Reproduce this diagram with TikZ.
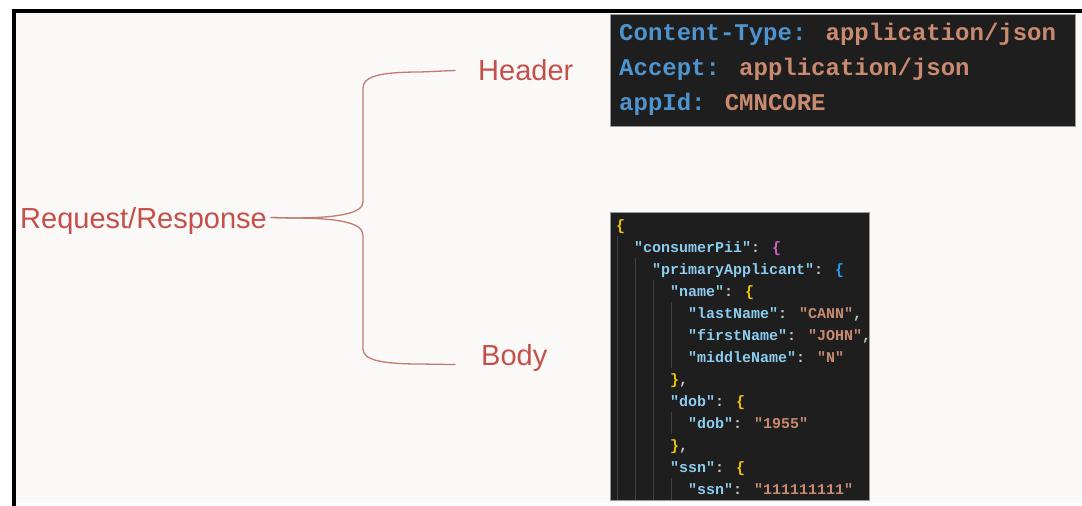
\documentclass[tikz,border=0pt]{standalone}
\usepackage{fontspec}
\setmainfont{Liberation Sans}
\newfontfamily\codefont{Liberation Mono}
\definecolor{pagebg}{HTML}{FAF9F8}
\definecolor{lblred}{HTML}{C4504A}
\definecolor{bracered}{HTML}{C27A74}
\definecolor{codebg}{HTML}{1E1E1E}
\definecolor{codeedge}{HTML}{9A9A9A}
\definecolor{hkey}{HTML}{4F94CF}
\definecolor{jkey}{HTML}{8CCCEE}
\definecolor{jstr}{HTML}{C98A70}
\definecolor{jpun}{HTML}{C8C8C8}
\definecolor{jyel}{HTML}{F2C300}
\definecolor{jmag}{HTML}{D064C8}
\definecolor{jblu}{HTML}{2A9BEF}
\definecolor{guidec}{HTML}{404040}
\newcommand\JK[1]{\textcolor{jkey}{#1}}
\newcommand\JS[1]{\textcolor{jstr}{#1}}
\newcommand\JP[1]{\textcolor{jpun}{#1}}
\newcommand\JY[1]{\textcolor{jyel}{#1}}
\begin{document}
\begin{tikzpicture}[x=1pt,y=-1pt,
  lbl/.style={inner sep=0pt, text=lblred, font=\fontsize{29}{34}\selectfont, text depth=0pt, anchor=base west},
  brace/.style={draw=bracered, line width=1.3pt, line cap=round},
  hcode/.style={inner sep=0pt, anchor=base west, font=\codefont\bfseries\fontsize{24}{28}\selectfont},
  jcode/.style={inner sep=0pt, anchor=base west, font=\codefont\bfseries\fontsize{15}{18}\selectfont},
  codebox/.style={fill=codebg, draw=codeedge, line width=0.6pt},
  guide/.style={draw=guidec, line width=0.8pt}]
\useasboundingbox (0,0) rectangle (1082,506);
\fill[white] (0,0) rectangle (1082,506);
\fill[pagebg] (16,13) rectangle (1082,503);
\fill[black] (12,9) rectangle (1082,13);
\fill[black] (12,9) rectangle (16,506);

% labels
\node[lbl] (rr) at (20,228) {Request/Response};
\node[lbl] (hd) at (478,80) {Header};
\node[lbl] (bd) at (481,365) {Body};

% brace
\draw[brace, shorten >=23pt] (rr.east) ++(4,0) -- (292,218) .. controls (335,218) and (363,214) .. (363,202) -- (363,88) .. controls (363,77) and (378,72) .. (420,72) -- (hd.west);
\draw[brace, shorten >=26pt] (rr.east) ++(4,0) -- (292,218) .. controls (335,218) and (363,222) .. (363,235) -- (363,349) .. controls (363,359) and (378,364) .. (420,364) -- (bd.base west);

% header code box
\node[codebox, minimum width=465pt, minimum height=112pt, anchor=north west, inner sep=0pt] (hbox) at (610,14) {};
\node[hcode] (h1) at (619,40) {\textcolor{hkey}{Content-Type:} \JS{application/json}};
\node[hcode] (h2) at (619,75) {\textcolor{hkey}{Accept:} \JS{application/json}};
\node[hcode] (h3) at (619,110) {\textcolor{hkey}{appId:} \JS{CMNCORE}};

% body code box
\node[codebox, minimum width=259pt, minimum height=288pt, anchor=north west, inner sep=0pt] (bbox) at (610,212) {};
% indent guides
\draw[guide] (617,236) -- (617,499.5);
\draw[guide] (635,258) -- (635,499.5);
\draw[guide] (653,280) -- (653,499.5);
\draw[guide] (671,302) -- (671,368);
\draw[guide] (671,412) -- (671,434);
\draw[guide] (671,478) -- (671,499.5);
% json lines
\node[jcode] (j0) at (616,230) {\JY{\{}};
\node[jcode] (j1) at (634,252) {\JK{"consumerPii"}\JP{:} \textcolor{jmag}{\{}};
\node[jcode] (j2) at (652,274) {\JK{"primaryApplicant"}\JP{:} \textcolor{jblu}{\{}};
\node[jcode] (j3) at (670,296) {\JK{"name"}\JP{:} \JY{\{}};
\node[jcode] (j4) at (688,318) {\JK{"lastName"}\JP{:} \JS{"CANN"}\JP{,}};
\node[jcode] (j5) at (688,340) {\JK{"firstName"}\JP{:} \JS{"JOHN"}\JP{,}};
\node[jcode] (j6) at (688,362) {\JK{"middleName"}\JP{:} \JS{"N"}};
\node[jcode] (j7) at (670,384) {\JY{\}}\JP{,}};
\node[jcode] (j8) at (670,406) {\JK{"dob"}\JP{:} \JY{\{}};
\node[jcode] (j9) at (688,428) {\JK{"dob"}\JP{:} \JS{"1955"}};
\node[jcode] (j10) at (670,450) {\JY{\}}\JP{,}};
\node[jcode] (j11) at (670,472) {\JK{"ssn"}\JP{:} \JY{\{}};
\node[jcode] (j12) at (688,494) {\JK{"ssn"}\JP{:} \JS{"111111111"}};
\end{tikzpicture}
\end{document}
